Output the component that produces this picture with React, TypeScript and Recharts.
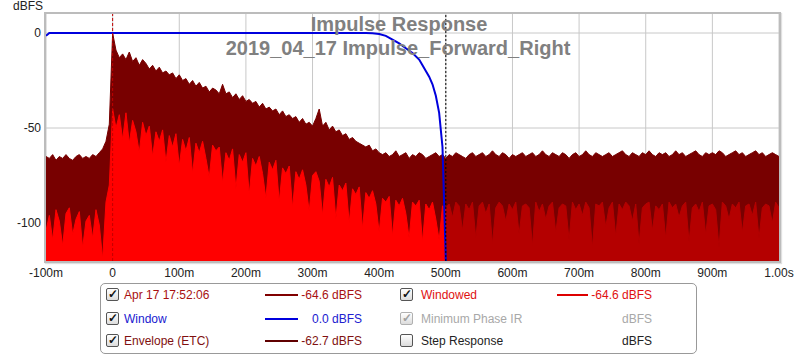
import React from 'react';
import { ComposedChart, Area, Line, XAxis, YAxis, CartesianGrid, ReferenceLine } from 'recharts';

// sample grid of the traces, in ms
const T_START = -100;
const T_STEP = 5;

const xTicks = [-100, 0, 100, 200, 300, 400, 500, 600, 700, 800, 900, 1000];
const yTicks = [0, -50, -100];

// Envelope (ETC), dBFS, -100 ms .. 1000 ms
const etc = [
  -65, -66, -64, -67, -65, -66, -64, -66, -67, -65,
  -64, -66, -65, -66, -64, -65, -63, -61, -57, -48,
  0, -9,
  -13, -11, -14, -10, -15, -13, -17, -14, -16, -19,
  -17, -20, -18, -21, -20, -22, -21, -24, -22, -25,
  -24, -27, -25, -28, -26, -29, -28, -31, -29, -30,
  -32, -27, -32, -31, -34, -32, -35, -33, -36, -35,
  -37, -36, -39, -37, -40, -39, -41, -40, -43, -41,
  -44, -43, -45, -44, -47, -45, -48, -47, -49, -45,
  -40, -49, -47, -51, -49, -52, -51, -54, -53, -56,
  -55, -57, -58, -59, -60, -59, -62, -61, -63,
  -64, -63, -65, -64, -62, -65, -64, -63, -66, -64,
  -65, -63, -64, -66, -65, -64, -63, -65, -64, -66,
  -64, -65, -63, -64, -65, -66, -64, -63, -65, -64,
  -63, -65, -64, -62, -64, -65, -63, -64, -66, -64,
  -65, -64, -63, -65, -64, -63, -65, -64, -62, -64,
  -65, -63, -64, -65, -63, -64, -66, -64, -63, -65,
  -64, -62, -64, -65, -63, -64, -65, -64, -63, -65,
  -64, -63, -62, -64, -65, -63, -64, -65, -63, -64,
  -62, -64, -65, -63, -64, -63, -65, -64, -62, -64,
  -63, -65, -64, -63, -62, -64, -65, -63, -64, -63,
  -64, -62, -63, -65, -64, -63, -62, -64, -63, -65,
  -64, -63, -62, -64, -63, -65, -64, -63, -64, -65,
];

// Windowed impulse, dBFS, -100 ms .. 500 ms
const windowed = [
  -104, -96, -109, -93, -99, -112, -95, -92, -106, -98,
  -94, -113, -99, -96, -108, -93, -101, -119, -89, -80,
  -40,
  -50, -43, -56, -42, -58, -46, -52, -63, -47, -54,
  -49, -65, -52, -57, -51, -68, -54, -60, -53, -70,
  -56, -62, -55, -74, -58, -63, -57, -66, -76, -59,
  -62, -60, -79, -63, -67, -61, -82, -64, -68, -63,
  -85, -66, -70, -65, -74, -87, -68, -72, -67, -89,
  -71, -74, -70, -92, -73, -77, -72, -80, -94, -75,
  -73, -78, -96, -77, -81, -76, -98, -80, -83, -79,
  -100, -82, -85, -81, -103, -84, -87, -83, -90, -105,
  -87, -89, -86, -107, -88, -91, -87, -95, -108, -89,
  -91, -88, -110, -90, -93, -89, -98, -109, -91, -92,
];

// Impulse beyond the window, dBFS, 500 ms .. 1000 ms
const tail = [
  -92, -90, -97, -89, -91, -104, -90, -93, -89, -108,
  -91, -89, -95, -90, -111, -92, -89, -91, -99, -90,
  -93, -89, -106, -91, -90, -92, -112, -89, -94, -90,
  -98, -91, -89, -105, -92, -90, -91, -109, -89, -93,
  -90, -96, -89, -92, -113, -90, -91, -89, -102, -92,
  -89, -107, -90, -93, -89, -91, -99, -90, -111, -92,
  -90, -89, -104, -91, -93, -90, -108, -89, -92, -90,
  -97, -91, -89, -110, -92, -90, -94, -89, -106, -91,
  -90, -93, -113, -89, -91, -98, -90, -92, -89, -105,
  -91, -90, -96, -89, -108, -92, -90, -91, -100, -89,
  -92,
];

// Window curve [ms, dB]
const windowKnots = [
  [-100, -1.5], [-95, 0], [380, 0], [390, -0.1], [400, -0.5], [410, -1.5],
  [420, -3.5], [430, -5.5], [440, -8], [450, -10.5], [460, -14], [465, -17],
  [470, -20], [475, -23], [480, -27], [485, -33], [490, -42], [495, -60], [500, -120],
];

const legendRows = [
  { label: 'Apr 17 17:52:06', color: '#a81010', line: '#800000', value: '-64.6 dBFS', checked: true, col: 0, row: 0 },
  { label: 'Window', color: '#2020d0', line: '#0000dd', value: '0.0 dBFS', checked: true, col: 0, row: 1 },
  { label: 'Envelope (ETC)', color: '#801010', line: '#600000', value: '-62.7 dBFS', checked: true, col: 0, row: 2 },
  { label: 'Windowed', color: '#e01010', line: '#dd0000', value: '-64.6 dBFS', checked: true, col: 1, row: 0 },
  { label: 'Minimum Phase IR', color: '#a8a8a8', line: '', value: 'dBFS', checked: true, disabled: true, col: 1, row: 1 },
  { label: 'Step Response', color: '#222222', line: '', value: 'dBFS', checked: false, col: 1, row: 2 },
];

const data = etc.map((v, i) => {
  const t = T_START + i * T_STEP;
  const k = windowKnots.find((p) => p[0] === t);
  const split = windowed.length - 1;
  return {
    t,
    etc: v,
    imp: i <= split ? windowed[i] : null,
    tail: i >= split ? tail[i - split] : null,
    win: k ? k[1] : null,
  };
});

const font = '"Liberation Sans", Arial, sans-serif';

const fmtX = (v: number) => (v === 0 ? '0' : v === 1000 ? '1.00s' : `${v}m`);

function CheckBox({ checked, disabled }: { checked: boolean; disabled?: boolean }) {
  return (
    <div
      style={{
        width: 11,
        height: 11,
        border: `1px solid ${disabled ? '#b0b0b0' : '#555'}`,
        borderRadius: 2,
        background: 'linear-gradient(#ffffff, #dcdcdc)',
        color: disabled ? '#a0a0a0' : '#111',
        fontSize: 12,
        fontWeight: 'bold',
        lineHeight: '11px',
        textAlign: 'center',
      }}
    >
      {checked ? '\u2713' : ''}
    </div>
  );
}

export default function App() {
  const colX = [
    { box: 106, label: 124, line0: 265, line1: 298, valueRight: 362 },
    { box: 400, label: 421, line0: 557, line1: 588, valueRight: 652 },
  ];
  const rowY = [295, 319, 341];

  return (
    <div style={{ position: 'absolute', left: 0, top: 0, width: 800, height: 356, background: '#fff', fontFamily: font }}>
      <ComposedChart width={800} height={356} data={data} margin={{ top: 14, right: 21, bottom: 75, left: 0 }}>
        <CartesianGrid stroke="#c8c8c8" verticalValues={xTicks} horizontalValues={yTicks} />
        <XAxis
          dataKey="t"
          type="number"
          domain={[-100, 1000]}
          ticks={xTicks}
          tickFormatter={fmtX}
          allowDataOverflow
          axisLine={false}
          tickLine={false}
          tickSize={0}
          tickMargin={7}
          height={20}
          interval={0}
          tick={{ fill: '#222', fontSize: 12, fontFamily: font }}
        />
        <YAxis
          type="number"
          domain={[-120, 10]}
          ticks={yTicks}
          allowDataOverflow
          axisLine={false}
          tickLine={false}
          tickSize={0}
          tickMargin={5}
          width={46}
          interval={0}
          tick={{ fill: '#222', fontSize: 12, fontFamily: font }}
        />
        <Area dataKey="etc" type="linear" baseValue={-120} fill="#780000" stroke="#780000" strokeWidth={1} fillOpacity={1} isAnimationActive={false} dot={false} activeDot={false} />
        <Area dataKey="imp" type="linear" baseValue={-120} fill="#ff0000" stroke="#ff0000" strokeWidth={1} fillOpacity={1} isAnimationActive={false} dot={false} activeDot={false} />
        <Area dataKey="tail" type="linear" baseValue={-120} fill="#b40000" stroke="#b40000" strokeWidth={1} fillOpacity={1} isAnimationActive={false} dot={false} activeDot={false} />
        <Line dataKey="win" type="linear" connectNulls stroke="#0000dd" strokeWidth={2} dot={false} activeDot={false} isAnimationActive={false} />
        <ReferenceLine x={0} stroke="#c00000" strokeDasharray="3 2" />
        <ReferenceLine x={500} stroke="#000" strokeDasharray="2 2" />
      </ComposedChart>

      {/* plot frame */}
      <div style={{ position: 'absolute', left: 44, top: 12, width: 737, height: 251, boxSizing: 'border-box', border: '2px solid #bcbcbc', boxShadow: '1px 1px 1px #e0e0e0', pointerEvents: 'none' }} />

      <div style={{ position: 'absolute', left: 13, top: 0, fontSize: 12, lineHeight: '13px', color: '#222' }}>dBFS</div>

      <div style={{ position: 'absolute', left: 0, width: 800, top: 12, textAlign: 'center', fontSize: 20, fontWeight: 'bold', color: '#808080', lineHeight: '24px' }}>
        <div style={{ marginLeft: -2 }}>Impulse Response</div>
        <div style={{ marginLeft: -4 }}>2019_04_17 Impulse_Forward_Right</div>
      </div>

      {/* legend */}
      <div style={{ position: 'absolute', left: 100, top: 283, width: 597, height: 71, boxSizing: 'border-box', border: '1px solid #999', borderRadius: 5, background: '#fff' }} />
      {legendRows.map((r) => {
        const c = colX[r.col];
        const y = rowY[r.row];
        return (
          <React.Fragment key={r.label}>
            <div style={{ position: 'absolute', left: c.box, top: y - 7 }}>
              <CheckBox checked={r.checked} disabled={r.disabled} />
            </div>
            <div style={{ position: 'absolute', left: c.label, top: y - 8, fontSize: 12, lineHeight: '16px', color: r.color, whiteSpace: 'nowrap' }}>{r.label}</div>
            {r.line ? (
              <div style={{ position: 'absolute', left: c.line0, top: y - 1, width: c.line1 - c.line0, height: 2, background: r.line }} />
            ) : null}
            <div style={{ position: 'absolute', left: c.valueRight - 100, width: 100, top: y - 8, fontSize: 12, lineHeight: '16px', color: r.color, textAlign: 'right', whiteSpace: 'nowrap' }}>{r.value}</div>
          </React.Fragment>
        );
      })}
    </div>
  );
}
